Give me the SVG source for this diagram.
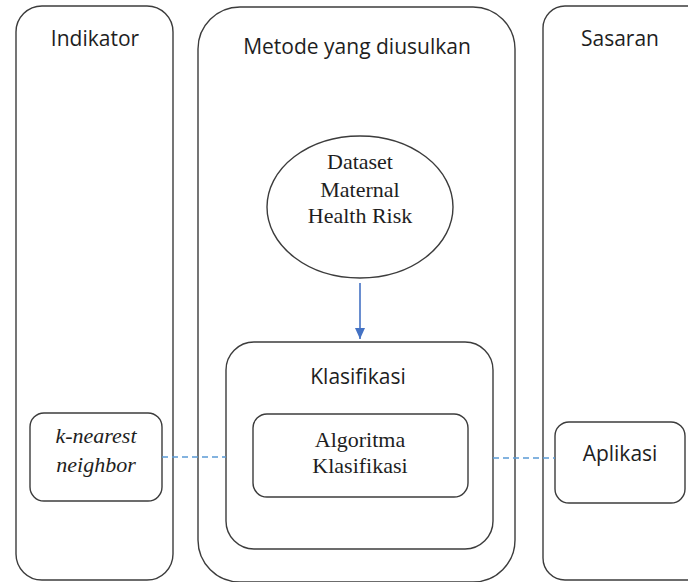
<svg xmlns="http://www.w3.org/2000/svg" width="688" height="582" viewBox="0 0 688 582">
  <style>
    .box { fill: #ffffff; stroke: #3c3c3c; stroke-width: 1.4; }
    .head { font-family: "Open Sans", "Liberation Sans", sans-serif; font-size: 21px; fill: #1e1e1e; text-anchor: middle; }
    .serif { font-family: "Liberation Serif", "Times New Roman", serif; font-size: 22px; fill: #1e1e1e; text-anchor: middle; }
    .italic { font-style: italic; }
    .dash { stroke: #5b9bd5; stroke-width: 1.3; stroke-dasharray: 6 4; fill: none; }
    .flow { stroke: #4472c4; stroke-width: 1.6; fill: none; }
  </style>
  <defs>
    <marker id="arrow" markerWidth="12" markerHeight="10" refX="11" refY="5" orient="auto" markerUnits="userSpaceOnUse">
      <path d="M0,0 L11,5 L0,10 Z" fill="#4472c4"/>
    </marker>
  </defs>
  <rect width="688" height="582" fill="#ffffff"/>

  <!-- column: Indikator -->
  <g id="indikator">
    <rect class="box" x="16" y="6" width="157" height="574" rx="26" ry="26"/>
    <text class="head" x="95" y="46">Indikator</text>
  </g>

  <!-- column: Metode yang diusulkan -->
  <g id="metode">
    <rect class="box" x="198" y="7" width="317" height="575" rx="42" ry="42"/>
    <text class="head" x="357" y="54">Metode yang diusulkan</text>
  </g>

  <!-- column: Sasaran -->
  <g id="sasaran">
    <rect class="box" x="543" y="6" width="170" height="574" rx="22" ry="22"/>
    <text class="head" x="620" y="46">Sasaran</text>
  </g>

  <!-- dataset ellipse -->
  <g id="dataset">
    <ellipse class="box" cx="360" cy="207" rx="93" ry="71"/>
    <text class="serif" x="360" y="169">Dataset</text>
    <text class="serif" x="360" y="197">Maternal</text>
    <text class="serif" x="360" y="223">Health Risk</text>
  </g>

  <!-- classification block -->
  <g id="klasifikasi">
    <rect class="box" x="226" y="342" width="267" height="207" rx="28" ry="28"/>
    <text class="head" x="358" y="384">Klasifikasi</text>
  </g>

  <g id="algoritma">
    <rect class="box" x="253" y="414" width="215" height="83" rx="14" ry="14"/>
    <text class="serif" x="360" y="447">Algoritma</text>
    <text class="serif" x="360" y="473">Klasifikasi</text>
  </g>

  <!-- indicator method -->
  <g id="knn">
    <rect class="box" x="30" y="413" width="132" height="88" rx="14" ry="14"/>
    <text class="serif italic" x="96" y="443">k-nearest</text>
    <text class="serif italic" x="96" y="472">neighbor</text>
  </g>

  <!-- target -->
  <g id="aplikasi">
    <rect class="box" x="555" y="422" width="130" height="81" rx="14" ry="14"/>
    <text class="head" x="620" y="461">Aplikasi</text>
  </g>

  <!-- connectors -->
  <g id="connectors">
    <line class="flow" x1="360" y1="283" x2="360" y2="339" marker-end="url(#arrow)"/>
    <line class="dash" x1="162" y1="457" x2="226" y2="457"/>
    <line class="dash" x1="493" y1="458" x2="555" y2="458"/>
  </g>
</svg>
